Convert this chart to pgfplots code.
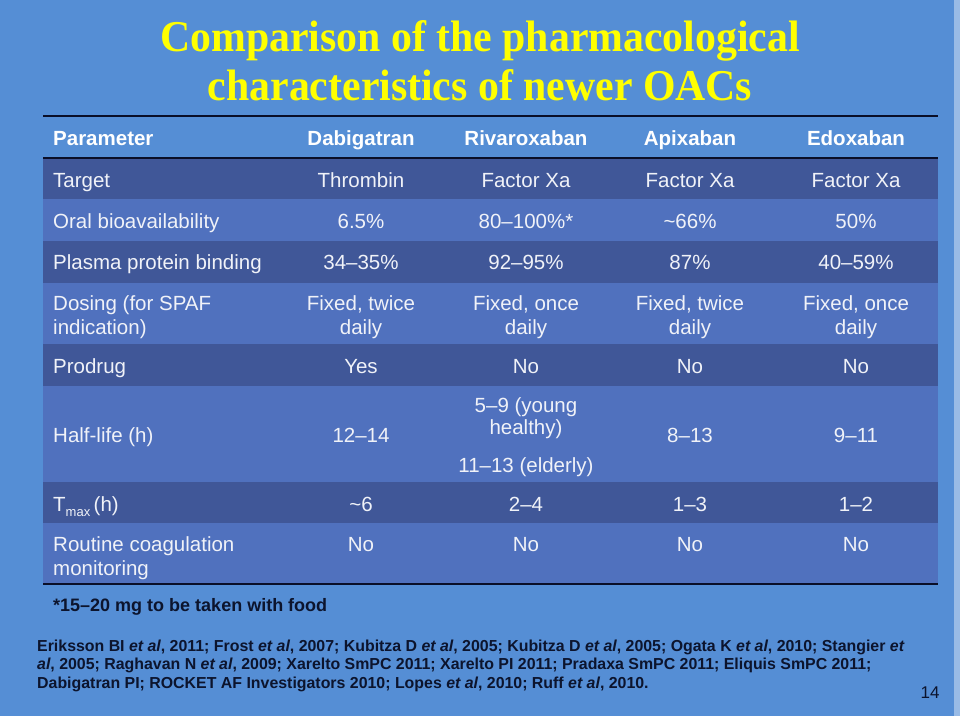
\documentclass[border=0pt]{standalone}
\usepackage{pgfplots}
\pgfplotsset{compat=1.18}
\usepackage{fontspec}
\setmainfont{Liberation Sans}
\newfontfamily\titlefont[FakeStretch=0.95]{Liberation Serif}

\definecolor{slidebg}{RGB}{85,142,213}
\definecolor{rowdark}{RGB}{64,87,152}
\definecolor{rowmid}{RGB}{80,113,190}
\definecolor{rule}{RGB}{10,15,40}
\definecolor{reftext}{RGB}{12,20,45}
\definecolor{celltext}{RGB}{240,242,248}
\definecolor{titleyellow}{RGB}{255,255,0}

% one table band: top, bottom, colour
\newcommand{\band}[3]{\addplot[fill=#3, draw=none] coordinates {(43,#1) (938,#1) (938,#2) (43,#2)} -- cycle;}
\newcommand{\tld}{{\char"7E}}

\begin{document}
\begin{tikzpicture}
\begin{axis}[
    width=960pt, height=716pt, scale only axis,
    xmin=0, xmax=960, ymin=0, ymax=716, y dir=reverse,
    hide axis, clip=false]

% slide background
\addplot[fill=slidebg, draw=none] coordinates {(0,0) (960,0) (960,716) (0,716)} -- cycle;
\addplot[fill=slidebg!60!white, draw=none] coordinates {(954,0) (960,0) (960,716) (954,716)} -- cycle;

% rows
\band{158}{199}{rowdark}
\band{199}{241}{rowmid}
\band{241}{283}{rowdark}
\band{283}{344}{rowmid}
\band{344}{386}{rowdark}
\band{386}{482}{rowmid}
\band{482}{523}{rowdark}
\band{523}{584}{rowmid}

% rules
\addplot[rule, line width=2.5pt] coordinates {(43,116) (938,116)};
\addplot[rule, line width=2pt] coordinates {(43,158) (938,158)};
\addplot[rule, line width=2pt] coordinates {(43,584) (938,584)};

% title
\node[anchor=base, inner sep=0, text=titleyellow, font=\titlefont\bfseries\fontsize{44}{44}\selectfont]
  at (axis cs:480,51) {Comparison of the pharmacological};
\node[anchor=base, inner sep=0, text=titleyellow, font=\titlefont\bfseries\fontsize{44}{44}\selectfont]
  at (axis cs:480,100) {characteristics of newer OACs};

\begin{scope}[every node/.style={inner sep=0, text=celltext, font=\fontsize{20.5}{24}\selectfont}]
% header
\begin{scope}[every node/.append style={font=\bfseries\fontsize{20.5}{24}\selectfont, text=white}]
\node[anchor=base west] at (axis cs:53,145) {Parameter};
\node[anchor=base] at (axis cs:361,145) {Dabigatran};
\node[anchor=base] at (axis cs:526,145) {Rivaroxaban};
\node[anchor=base] at (axis cs:690,145) {Apixaban};
\node[anchor=base] at (axis cs:856,145) {Edoxaban};
\end{scope}

\node[anchor=base west] at (axis cs:53,187) {Target};
\node[anchor=base] at (axis cs:361,187) {Thrombin};
\node[anchor=base] at (axis cs:526,187) {Factor Xa};
\node[anchor=base] at (axis cs:690,187) {Factor Xa};
\node[anchor=base] at (axis cs:856,187) {Factor Xa};

\node[anchor=base west] at (axis cs:53,228) {Oral bioavailability};
\node[anchor=base] at (axis cs:361,228) {6.5\%};
\node[anchor=base] at (axis cs:526,228) {80--100\%*};
\node[anchor=base] at (axis cs:690,228) {\tld66\%};
\node[anchor=base] at (axis cs:856,228) {50\%};

\node[anchor=base west] at (axis cs:53,269) {Plasma protein binding};
\node[anchor=base] at (axis cs:361,269) {34--35\%};
\node[anchor=base] at (axis cs:526,269) {92--95\%};
\node[anchor=base] at (axis cs:690,269) {87\%};
\node[anchor=base] at (axis cs:856,269) {40--59\%};

\node[anchor=base west] at (axis cs:53,310) {Dosing (for SPAF};
\node[anchor=base west] at (axis cs:53,334) {indication)};
\node[anchor=base] at (axis cs:361,310) {Fixed, twice};
\node[anchor=base] at (axis cs:361,334) {daily};
\node[anchor=base] at (axis cs:526,310) {Fixed, once};
\node[anchor=base] at (axis cs:526,334) {daily};
\node[anchor=base] at (axis cs:690,310) {Fixed, twice};
\node[anchor=base] at (axis cs:690,334) {daily};
\node[anchor=base] at (axis cs:856,310) {Fixed, once};
\node[anchor=base] at (axis cs:856,334) {daily};

\node[anchor=base west] at (axis cs:53,373) {Prodrug};
\node[anchor=base] at (axis cs:361,373) {Yes};
\node[anchor=base] at (axis cs:526,373) {No};
\node[anchor=base] at (axis cs:690,373) {No};
\node[anchor=base] at (axis cs:856,373) {No};

\node[anchor=base west] at (axis cs:53,442) {Half-life (h)};
\node[anchor=base] at (axis cs:361,442) {12--14};
\node[anchor=base] at (axis cs:526,412) {5--9 (young};
\node[anchor=base] at (axis cs:526,434) {healthy)};
\node[anchor=base] at (axis cs:526,472) {11--13 (elderly)};
\node[anchor=base] at (axis cs:690,442) {8--13};
\node[anchor=base] at (axis cs:856,442) {9--11};

\node[anchor=base west] at (axis cs:53,511) {T{\fontsize{13}{13}\selectfont\raisebox{-5pt}{max}}\,(h)};
\node[anchor=base] at (axis cs:361,511) {\tld6};
\node[anchor=base] at (axis cs:526,511) {2--4};
\node[anchor=base] at (axis cs:690,511) {1--3};
\node[anchor=base] at (axis cs:856,511) {1--2};

\node[anchor=base west] at (axis cs:53,551) {Routine coagulation};
\node[anchor=base west] at (axis cs:53,575) {monitoring};
\node[anchor=base] at (axis cs:361,551) {No};
\node[anchor=base] at (axis cs:526,551) {No};
\node[anchor=base] at (axis cs:690,551) {No};
\node[anchor=base] at (axis cs:856,551) {No};
\end{scope}

% footnote
\node[anchor=base west, inner sep=0, text=reftext, font=\bfseries\fontsize{18}{20}\selectfont]
  at (axis cs:53,611) {*15--20 mg to be taken with food};

% references
\begin{scope}[every node/.style={anchor=base west, inner sep=0, text=reftext, font=\bfseries\fontsize{15.9}{18}\selectfont}]
\node at (axis cs:37,651) {Eriksson BI \textit{et al}, 2011; Frost \textit{et al}, 2007; Kubitza D \textit{et al}, 2005; Kubitza D \textit{et al}, 2005; Ogata K \textit{et al}, 2010; Stangier \textit{et}};
\node at (axis cs:37,669) {\textit{al}, 2005; Raghavan N \textit{et al}, 2009; Xarelto SmPC 2011; Xarelto PI 2011; Pradaxa SmPC 2011; Eliquis SmPC 2011;};
\node at (axis cs:37,688) {Dabigatran PI; ROCKET AF Investigators 2010; Lopes \textit{et al}, 2010; Ruff \textit{et al}, 2010.};
\end{scope}
\node[anchor=base, inner sep=0, text=reftext, font=\fontsize{17}{17}\selectfont] at (axis cs:930,698) {14};

\end{axis}
\end{tikzpicture}
\end{document}
